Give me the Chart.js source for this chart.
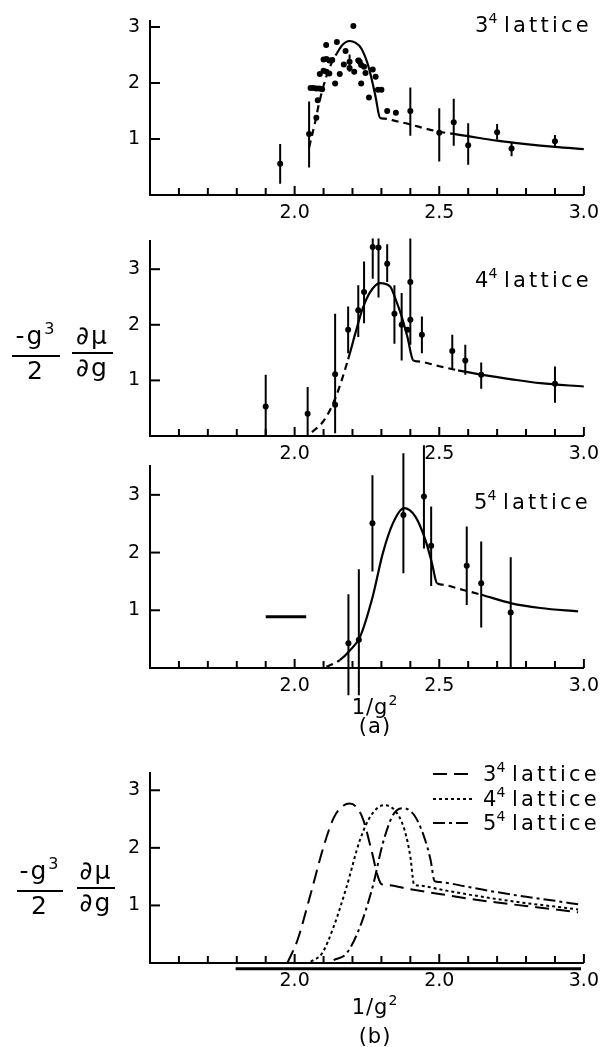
<!DOCTYPE html>
<html><head><meta charset="utf-8">
<script src="https://cdn.jsdelivr.net/npm/chart.js@4.4.1/dist/chart.umd.min.js"></script>
<style>
html,body{margin:0;padding:0;background:#fff;}
body{width:606px;height:1047px;position:relative;overflow:hidden;font-family:"DejaVu Sans",sans-serif;color:#000;}
canvas{position:absolute;left:0;}
.t{position:absolute;white-space:nowrap;font-size:21px;line-height:24px;}
.lat{letter-spacing:3.2px;}
.sup{font-size:14px;position:relative;top:-9px;}
.frac{position:absolute;display:flex;flex-direction:column;align-items:center;font-size:25px;}
.frac .n{line-height:26px;padding:0 0 3px;white-space:nowrap;letter-spacing:2px;}
.frac .d{line-height:26px;border-top:2px solid #000;padding:1px 0 0;width:100%;text-align:center;letter-spacing:2px;}
.frac .sup{font-size:16px;top:-10px;}
.c{text-align:center;font-size:21px;line-height:20px;letter-spacing:1px;}
</style></head>
<body>
<canvas id="c1" width="606" height="230" style="top:0"></canvas>
<canvas id="c2" width="606" height="250" style="top:220px"></canvas>
<canvas id="c3" width="606" height="270" style="top:436px"></canvas>
<canvas id="c4" width="606" height="307" style="top:740px"></canvas>

<div class="t" style="left:475px;top:13px">3<span class="sup">4</span> <span class="lat">lattice</span></div>
<div class="t" style="left:475px;top:268px">4<span class="sup">4</span> <span class="lat">lattice</span></div>
<div class="t" style="left:474px;top:490px">5<span class="sup">4</span> <span class="lat">lattice</span></div>
<div class="t" style="left:483px;top:762px">3<span class="sup">4</span> <span class="lat">lattice</span></div>
<div class="t" style="left:483px;top:787px">4<span class="sup">4</span> <span class="lat">lattice</span></div>
<div class="t" style="left:483px;top:811px">5<span class="sup">4</span> <span class="lat">lattice</span></div>

<div class="frac" style="left:12px;top:323px;width:48px"><div class="n">-g<span class="sup">3</span></div><div class="d">2</div></div>
<div class="frac" style="left:72px;top:323px;width:41px"><div class="n">∂μ</div><div class="d">∂g</div></div>
<div class="frac" style="left:17px;top:858px;width:46px"><div class="n">-g<span class="sup">3</span></div><div class="d">2</div></div>
<div class="frac" style="left:77px;top:858px;width:38px"><div class="n">∂μ</div><div class="d">∂g</div></div>

<div class="t c" style="left:325px;width:100px;top:697px">1/g<span class="sup">2</span></div>
<div class="t c" style="left:325px;width:100px;top:716px">(a)</div>
<div class="t c" style="left:325px;width:100px;top:997px">1/g<span class="sup">2</span></div>
<div class="t c" style="left:325px;width:100px;top:1026px">(b)</div>

<script>
// ---------- axes ----------
const xTicks = [1.6,1.7,1.8,1.9,2.0,2.1,2.2,2.3,2.4,2.5,2.6,2.7,2.8,2.9,3.0];
const xLabelValues = [2.0,2.5,3.0];
const xLabelsA = ['2.0','2.5','3.0'];
const xLabelsB = ['2.0','2.0','3.0'];
const yTicks = [1,2,3];

// ---------- panel 1 : 3^4 lattice ----------
const p1ErrX  = [1.95,2.05,2.40,2.50,2.55,2.60,2.70,2.75,2.90,2.19,2.225];
const p1ErrY  = [0.56,1.09,1.50,1.11,1.30,0.89,1.12,0.83,0.96,2.38,2.38];
const p1ErrLo = [0.20,0.49,1.06,0.60,0.88,0.54,0.99,0.69,0.86,2.20,2.29];
const p1ErrHi = [0.91,1.67,1.92,1.55,1.72,1.28,1.27,0.93,1.07,2.51,2.45];
const p1DotX = [2.203,2.109,2.146,2.176,2.10,2.11,2.12,2.13,2.10,2.11,2.087,2.12,2.156,2.14,2.17,2.19,2.206,2.22,2.23,2.24,2.23,2.245,2.27,2.28,2.257,2.288,2.30,2.055,2.065,2.075,2.085,2.095,2.08,2.075,2.32,2.35];
const p1DotY = [3.02,2.68,2.73,2.57,2.42,2.43,2.40,2.41,2.22,2.20,2.16,2.17,2.16,1.99,2.33,2.27,2.20,2.40,2.32,2.29,1.99,2.18,2.24,2.11,1.74,1.88,1.88,1.91,1.91,1.90,1.90,1.89,1.69,1.38,1.50,1.47];
const p1CurveX = [2.05,2.07,2.085,2.11,2.13,2.145,2.165,2.19,2.21,2.23,2.25,2.265,2.28,2.295,2.31,2.35,2.40,2.45,2.50,2.55,2.60,2.70,2.80,2.90,3.00];
const p1CurveY = [0.85,1.28,1.65,2.12,2.38,2.52,2.68,2.75,2.72,2.62,2.38,2.10,1.75,1.38,1.365,1.32,1.26,1.19,1.13,1.09,1.05,0.97,0.91,0.86,0.82];
const p1CurveStyle = ['d','d','d','d','d','s','s','s','s','s','s','s','s','d','d','d','d','d','d','s','s','s','s','s','s'];

// ---------- panel 2 : 4^4 lattice ----------
const p2PtX = [1.90,2.045,2.14,2.14,2.185,2.22,2.24,2.27,2.29,2.32,2.345,2.37,2.39,2.40,2.40,2.44,2.545,2.59,2.645,2.90];
const p2PtY = [0.53,0.40,1.11,0.56,1.91,2.26,2.59,3.40,3.39,3.10,2.20,2.00,1.91,2.77,2.09,1.82,1.53,1.36,1.10,0.94];
const p2ErrX  = [1.90,2.045,2.14,2.185,2.22,2.24,2.27,2.29,2.32,2.345,2.37,2.40,2.44,2.545,2.59,2.645,2.90];
const p2ErrLo = [0.00,0.00,0.05,1.49,1.78,2.03,2.83,2.49,2.77,1.66,1.36,1.64,1.49,1.21,1.10,0.85,0.60];
const p2ErrHi = [1.10,0.88,2.20,2.33,2.71,3.14,3.55,3.55,3.45,2.71,2.57,3.55,2.15,1.82,1.64,1.32,1.25];
const p2CurveX = [2.06,2.10,2.14,2.185,2.21,2.235,2.26,2.295,2.33,2.35,2.37,2.39,2.41,2.425,2.50,2.565,2.65,2.75,2.85,3.00];
const p2CurveY = [0.07,0.27,0.67,1.38,1.85,2.29,2.58,2.75,2.69,2.45,2.15,1.78,1.36,1.343,1.255,1.18,1.10,1.02,0.95,0.89];
const p2CurveStyle = ['d','d','d','s','s','s','s','s','s','s','s','s','d','d','d','s','s','s','s','s'];

// ---------- panel 3 : 5^4 lattice ----------
const p3ErrX  = [2.186,2.222,2.269,2.376,2.447,2.472,2.595,2.645,2.747];
const p3ErrY  = [0.43,0.49,2.51,2.65,2.97,2.12,1.77,1.47,0.96];
const p3ErrLo = [-0.47,-0.47,1.67,1.64,2.07,1.42,1.09,0.70,0.00];
const p3ErrHi = [1.28,1.71,3.34,3.72,3.86,2.80,2.45,2.19,1.92];
const p3MarkX = [1.90,2.04];
const p3MarkY = [0.89,0.89];
const p3CurveX = [2.11,2.157,2.19,2.226,2.27,2.305,2.34,2.378,2.418,2.452,2.475,2.492,2.51,2.58,2.645,2.75,2.85,2.98];
const p3CurveY = [0.02,0.14,0.30,0.54,1.24,1.99,2.51,2.77,2.62,2.22,1.81,1.47,1.445,1.355,1.27,1.12,1.04,0.98];
const p3CurveStyle = ['d','s','s','s','s','s','s','s','s','s','s','d','d','d','s','s','s','s'];

// ---------- panel 4 : comparison ----------
const seriesNames = ['3⁴ lattice','4⁴ lattice','5⁴ lattice'];
const b3X = [1.975,2.01,2.056,2.10,2.135,2.16,2.19,2.215,2.237,2.265,2.288,2.30,2.32,2.40,2.50,2.60,2.70,2.80,2.90,2.98];
const b3Y = [0.00,0.40,1.21,2.02,2.52,2.70,2.77,2.70,2.49,1.97,1.50,1.37,1.355,1.28,1.20,1.12,1.05,0.99,0.93,0.88];
const b4X = [2.056,2.095,2.135,2.18,2.226,2.265,2.31,2.35,2.38,2.40,2.413,2.43,2.50,2.60,2.70,2.80,2.90,2.98];
const b4Y = [0.02,0.17,0.63,1.33,2.14,2.57,2.74,2.63,2.31,1.85,1.36,1.345,1.28,1.19,1.11,1.04,0.98,0.93];
const b5X = [2.135,2.18,2.226,2.27,2.305,2.34,2.373,2.413,2.447,2.47,2.484,2.50,2.60,2.70,2.80,2.90,2.98];
const b5Y = [0.05,0.17,0.63,1.33,2.08,2.57,2.69,2.57,2.20,1.79,1.42,1.405,1.32,1.23,1.15,1.08,1.02];
const bBarX = [1.796,2.99];
const bBarY = [-0.10,-0.10];

// ---------- helpers ----------
const zip = (xs, ys) => xs.map((x, i) => ({x, y: ys[i]}));
const BLACK = '#000';
function curveDS(xs, ys, styles, dash) {
  return {data: zip(xs, ys), showLine: true, borderColor: BLACK, borderWidth: 2.2, pointRadius: 0,
    cubicInterpolationMode: 'monotone',
    segment: {borderDash: ctx => styles[ctx.p0DataIndex] === 'd' ? dash : undefined}};
}
function lineDS(xs, ys, dash, width, label) {
  return {label, data: zip(xs, ys), showLine: true, borderColor: BLACK, borderWidth: width || 2,
    borderDash: dash || [], pointRadius: 0, cubicInterpolationMode: 'monotone', clip: false};
}
function pointsDS(xs, ys) {
  return {data: zip(xs, ys), showLine: false, pointRadius: 3, pointBackgroundColor: BLACK, pointBorderColor: BLACK, pointBorderWidth: 0};
}
function errDS(xs, lo, hi) {
  const d = [];
  xs.forEach((x, i) => { d.push({x, y: lo[i]}, {x, y: hi[i]}, {x, y: null}); });
  return {data: d, showLine: true, spanGaps: false, borderColor: BLACK, borderWidth: 2, pointRadius: 0, clip: false};
}

const inwardTicks = {
  id: 'inwardTicks',
  afterDatasetsDraw(chart) {
    const {ctx, scales: {x, y}, chartArea: a} = chart;
    ctx.save(); ctx.strokeStyle = BLACK; ctx.lineWidth = 2;
    x.ticks.forEach(t => {
      const px = x.getPixelForValue(t.value);
      const big = xLabelValues.some(v => Math.abs(v - t.value) < 1e-6);
      ctx.beginPath(); ctx.moveTo(px, a.bottom); ctx.lineTo(px, a.bottom - (big ? 9 : 7)); ctx.stroke();
    });
    y.ticks.forEach(t => {
      const py = y.getPixelForValue(t.value);
      ctx.beginPath(); ctx.moveTo(a.left, py); ctx.lineTo(a.left + 10, py); ctx.stroke();
    });
    ctx.restore();
  }
};
const lineKey = {
  id: 'lineKey',
  afterDatasetsDraw(chart, args, opts) {
    if (!opts || !opts.ys) return;
    const {ctx} = chart;
    ctx.save(); ctx.strokeStyle = BLACK; ctx.lineWidth = 2;
    opts.datasets.forEach((di, k) => {
      const ds = chart.data.datasets[di];
      ctx.setLineDash(ds.borderDash || []);
      ctx.beginPath(); ctx.moveTo(opts.x0, opts.ys[k]); ctx.lineTo(opts.x1, opts.ys[k]); ctx.stroke();
    });
    ctx.restore();
  }
};

function makePanel(id, padTop, plotH, yMax, labels, datasets, keyOpts) {
  const cv = document.getElementById(id);
  const xH = cv.height - padTop - plotH;
  const font = {family: 'DejaVu Sans', size: 19};
  return new Chart(cv, {
    type: 'scatter',
    data: {datasets},
    options: {
      responsive: false, animation: false, devicePixelRatio: 1,
      layout: {padding: {top: padTop, right: 16, left: 0, bottom: 0}},
      plugins: {legend: {display: false}, tooltip: {enabled: false}, lineKey: keyOpts || {}},
      scales: {
        x: {type: 'linear', min: 1.5, max: 3.0,
          afterBuildTicks: s => { s.ticks = xTicks.map(v => ({value: v})); },
          afterFit: s => { s.height = xH; },
          ticks: {autoSkip: false, maxRotation: 0, padding: 7, color: BLACK, font,
            callback: v => { const i = xLabelValues.findIndex(a => Math.abs(a - v) < 1e-6); return i >= 0 ? labels[i] : ''; }},
          grid: {display: true, drawOnChartArea: false, drawTicks: false},
          border: {display: true, color: BLACK, width: 2}},
        y: {type: 'linear', min: 0, max: yMax,
          afterBuildTicks: s => { s.ticks = yTicks.map(v => ({value: v})); },
          afterFit: s => { s.width = 150; },
          ticks: {padding: 10, color: BLACK, font, callback: v => String(v)},
          grid: {display: true, drawOnChartArea: false, drawTicks: false},
          border: {display: true, color: BLACK, width: 2}}
      }
    },
    plugins: [inwardTicks, lineKey]
  });
}

const DASH = [7, 5];
makePanel('c1', 12, 183, 3.1, xLabelsA, [
  curveDS(p1CurveX, p1CurveY, p1CurveStyle, DASH),
  errDS(p1ErrX, p1ErrLo, p1ErrHi),
  pointsDS(p1ErrX, p1ErrY),
  pointsDS(p1DotX, p1DotY)
]);
makePanel('c2', 10.5, 205.5, 3.5, xLabelsA, [
  curveDS(p2CurveX, p2CurveY, p2CurveStyle, DASH),
  errDS(p2ErrX, p2ErrLo, p2ErrHi),
  pointsDS(p2PtX, p2PtY)
]);
makePanel('c3', 30, 202, 3.5, xLabelsA, [
  curveDS(p3CurveX, p3CurveY, p3CurveStyle, DASH),
  lineDS(p3MarkX, p3MarkY, [], 3),
  errDS(p3ErrX, p3ErrLo, p3ErrHi),
  pointsDS(p3ErrX, p3ErrY)
]);
makePanel('c4', 33, 190, 3.3, xLabelsB, [
  lineDS(b3X, b3Y, [14, 7], 2, seriesNames[0]),
  lineDS(b4X, b4Y, [3, 3], 2, seriesNames[1]),
  lineDS(b5X, b5Y, [12, 4, 3, 4], 2, seriesNames[2]),
  lineDS(bBarX, bBarY, [], 3)
], {x0: 433, x1: 472, ys: [34, 59, 83], datasets: [0, 1, 2]});
</script>
</body></html>
